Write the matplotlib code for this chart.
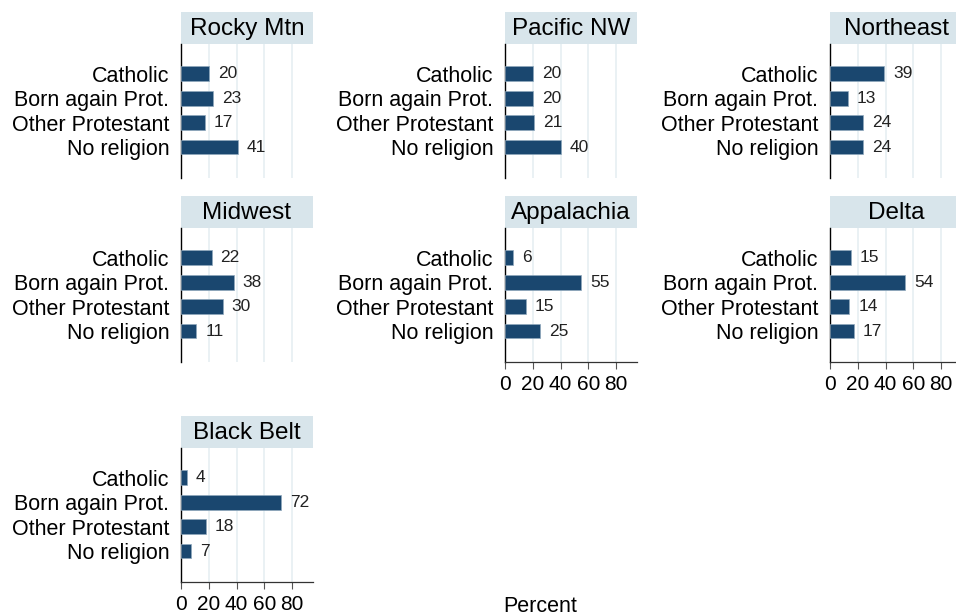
import matplotlib.pyplot as plt
from matplotlib.patches import Rectangle

# data
religions = ['Catholic', 'Born again Prot.', 'Other Protestant', 'No religion']
regions = ['Rocky Mtn', 'Pacific NW', 'Northeast', 'Midwest', 'Appalachia', 'Delta', 'Black Belt']
rocky_mtn = [20, 23, 17, 41]
pacific_nw = [20, 20, 21, 40]
northeast = [39, 13, 24, 24]
midwest = [22, 38, 30, 11]
appalachia = [6, 55, 15, 25]
delta = [15, 54, 14, 17]
black_belt = [4, 72, 18, 7]
values = [rocky_mtn, pacific_nw, northeast, midwest, appalachia, delta, black_belt]
xticks = [0, 20, 40, 60, 80]

plt.rcParams['font.family'] = ['Liberation Sans', 'DejaVu Sans']

W, H = 956, 615
fig = plt.figure(figsize=(W / 100, H / 100), dpi=100)

bar_color = '#1a476f'
grid_color = '#e6eff2'
strip_color = '#d8e5eb'

col_left = [181, 505, 830]
row_top = [44, 228, 448]
ax_w, ax_h = 132, 134
strip_h = 32
# panels that show the x axis
show_x = {'Appalachia', 'Delta', 'Black Belt'}

for i, (name, vals) in enumerate(zip(regions, values)):
    r, c = divmod(i, 3)
    left = col_left[c]
    top = row_top[r]
    ax = fig.add_axes([left / W, 1 - (top + ax_h) / H, ax_w / W, ax_h / H])
    ypos = list(range(len(religions)))
    ax.barh(ypos, vals, height=0.6, color=bar_color, edgecolor='#8fa8bd', linewidth=0.5, zorder=3)
    for y, v in zip(ypos, vals):
        ax.text(v + 6.5, y, f'{v}', va='center', ha='left', fontsize=12.5, color='#222222')
    ax.set_xlim(0, 95)
    ax.set_ylim(3 + 1.27, -1.22)
    ax.set_yticks(ypos)
    ax.set_yticklabels(religions, fontsize=15.5)
    ax.tick_params(axis='y', length=0, pad=8.5)
    ax.set_xticks(xticks)
    for x in xticks[1:]:
        ax.axvline(x, color=grid_color, lw=1.2, zorder=1)
    for s in ['top', 'right']:
        ax.spines[s].set_visible(False)
    ax.spines['left'].set_color('black')
    ax.spines['left'].set_linewidth(1.0)
    if name in show_x:
        ax.spines['bottom'].set_color('#333333')
        ax.spines['bottom'].set_linewidth(0.9)
        ax.tick_params(axis='x', length=5, width=0.8, color='#555555', labelsize=15, pad=4.5)
    else:
        ax.spines['bottom'].set_visible(False)
        ax.tick_params(axis='x', length=0, labelbottom=False)
    # strip title
    sh = strip_h / ax_h
    ax.add_patch(Rectangle((0, 1), 1, sh, transform=ax.transAxes, facecolor=strip_color,
                           edgecolor='none', clip_on=False))
    ax.text(0.5, 1 + sh / 2 - 0.01, name, transform=ax.transAxes, ha='center', va='center', fontsize=17.5)

fig.text(540 / W, 1 - 606 / H, 'Percent', ha='center', va='center', fontsize=15.5)

fig.savefig('out.png', dpi=100)
